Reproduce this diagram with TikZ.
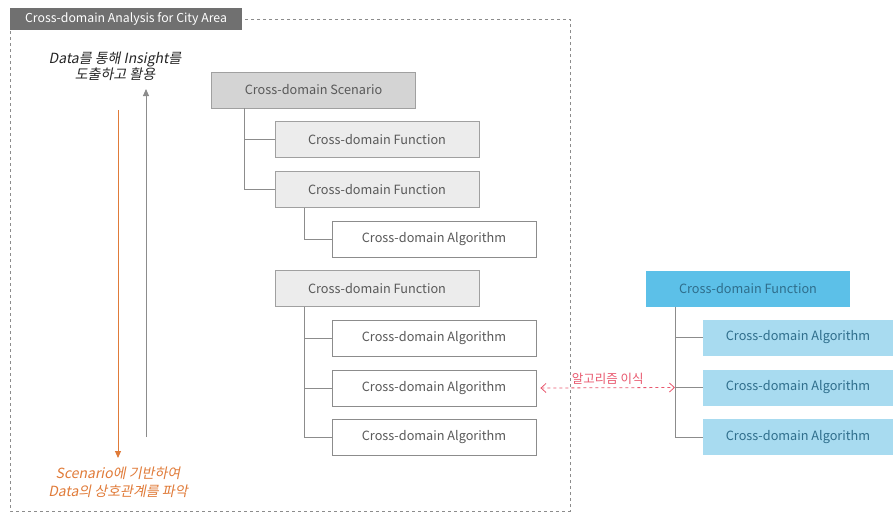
\documentclass[tikz,border=0pt]{standalone}
\usepackage{fontspec}
\setmainfont{Noto Sans CJK KR}
\newfontfamily\krit[FakeSlant=0.2]{Noto Sans CJK KR}
\usetikzlibrary{arrows.meta}
\definecolor{txtgray}{HTML}{595959}
\definecolor{linegray}{HTML}{8C8C8C}
\definecolor{titlegray}{HTML}{707070}
\definecolor{scenfill}{HTML}{D4D4D4}
\definecolor{funcfill}{HTML}{ECECEC}
\definecolor{boxline}{HTML}{A0A0A0}
\definecolor{orng}{HTML}{E07B39}
\definecolor{bluef}{HTML}{5CC0E8}
\definecolor{bluel}{HTML}{A8DBF0}
\definecolor{bluetxt}{HTML}{2F6E8C}
\definecolor{redd}{HTML}{E8586E}
\tikzset{
  base/.style={draw=boxline, line width=0.8pt, minimum width=204pt, minimum height=36pt, inner sep=0pt, text=txtgray, font=\fontsize{12.7}{14}\selectfont},
  scenbox/.style={base, fill=scenfill},
  funcbox/.style={base, fill=funcfill},
  algbox/.style={base, fill=white, draw=linegray},
  bfunc/.style={base, draw=none, fill=bluef, text=bluetxt},
  balg/.style={base, draw=none, fill=bluel, text=bluetxt, minimum width=190pt},
  conn/.style={draw=linegray, line width=0.8pt},
}
\begin{document}
\begin{tikzpicture}[x=1pt,y=-1pt]
\useasboundingbox (0,0) rectangle (893,514);
% frame
\draw[linegray, dashed, line width=0.6pt] (10,19) rectangle (570,511);
\node[fill=titlegray, text=white, minimum width=232pt, minimum height=22pt, inner sep=0pt, font=\fontsize{12.3}{14}\selectfont] (title) at (126,19) {Cross-domain Analysis for City Area};
% left texts and arrows
\node[align=center, font=\krit\fontsize{14}{16}\selectfont, text=black!85] (insight) at (115,66) {Data를 통해 Insight를\\도출하고 활용};
\node[align=center, font=\krit\fontsize{14}{18}\selectfont, text=orng] (scen) at (118,482) {Scenario에 기반하여\\Data의 상호관계를 파악};
\coordinate (upS) at (146,437);
\coordinate (upE) at (146,89);
\coordinate (dnS) at (118,110);
\coordinate (dnE) at (118,458);
\draw[linegray, line width=0.9pt, -{Triangle[length=7pt,width=6pt]}] (upS) -- (upE);
\draw[orng, line width=0.9pt, -{Triangle[length=7pt,width=6pt]}] (dnS) -- (dnE);
% left tree
\node[scenbox] (sc) at (313.5,90) {Cross-domain Scenario};
\node[funcbox] (f1) at (377,139.5) {Cross-domain Function};
\node[funcbox] (f2) at (377,189.5) {Cross-domain Function};
\node[algbox] (a1) at (434,239) {Cross-domain Algorithm};
\node[funcbox] (f3) at (377,288.5) {Cross-domain Function};
\node[algbox] (a2) at (434,338.5) {Cross-domain Algorithm};
\node[algbox] (a3) at (434,388) {Cross-domain Algorithm};
\node[algbox] (a4) at (434,437.5) {Cross-domain Algorithm};
\draw[conn] (sc.south -| 244,0) |- (f1.west);
\draw[conn] (sc.south -| 244,0) |- (f2.west);
\draw[conn] (f2.south -| 304,0) |- (a1.west);
\draw[conn] (f3.south -| 304,0) |- (a2.west);
\draw[conn] (f3.south -| 304,0) |- (a3.west);
\draw[conn] (f3.south -| 304,0) |- (a4.west);
% right tree
\node[bfunc] (bf) at (748,288.5) {Cross-domain Function};
\node[balg] (b1) at (798,337.5) {Cross-domain Algorithm};
\node[balg] (b2) at (798,387.5) {Cross-domain Algorithm};
\node[balg] (b3) at (798,437) {Cross-domain Algorithm};
\coordinate (rj) at (675,387.5);
\draw[conn] (bf.south -| 675,0) |- (b1.west);
\draw[conn] (bf.south -| 675,0) |- (b2.west);
\draw[conn] (bf.south -| 675,0) |- (b3.west);
% transplant arrow
\draw[redd, dashed, line width=0.8pt, {Straight Barb[length=5pt,width=9pt]}-{Straight Barb[length=5pt,width=9pt]}] ([xshift=4pt]a3.east) -- node[above=0pt, font=\fontsize{12.5}{14}\selectfont, text=redd] (lbl) {알고리즘 이식} (rj);
\end{tikzpicture}
\end{document}
